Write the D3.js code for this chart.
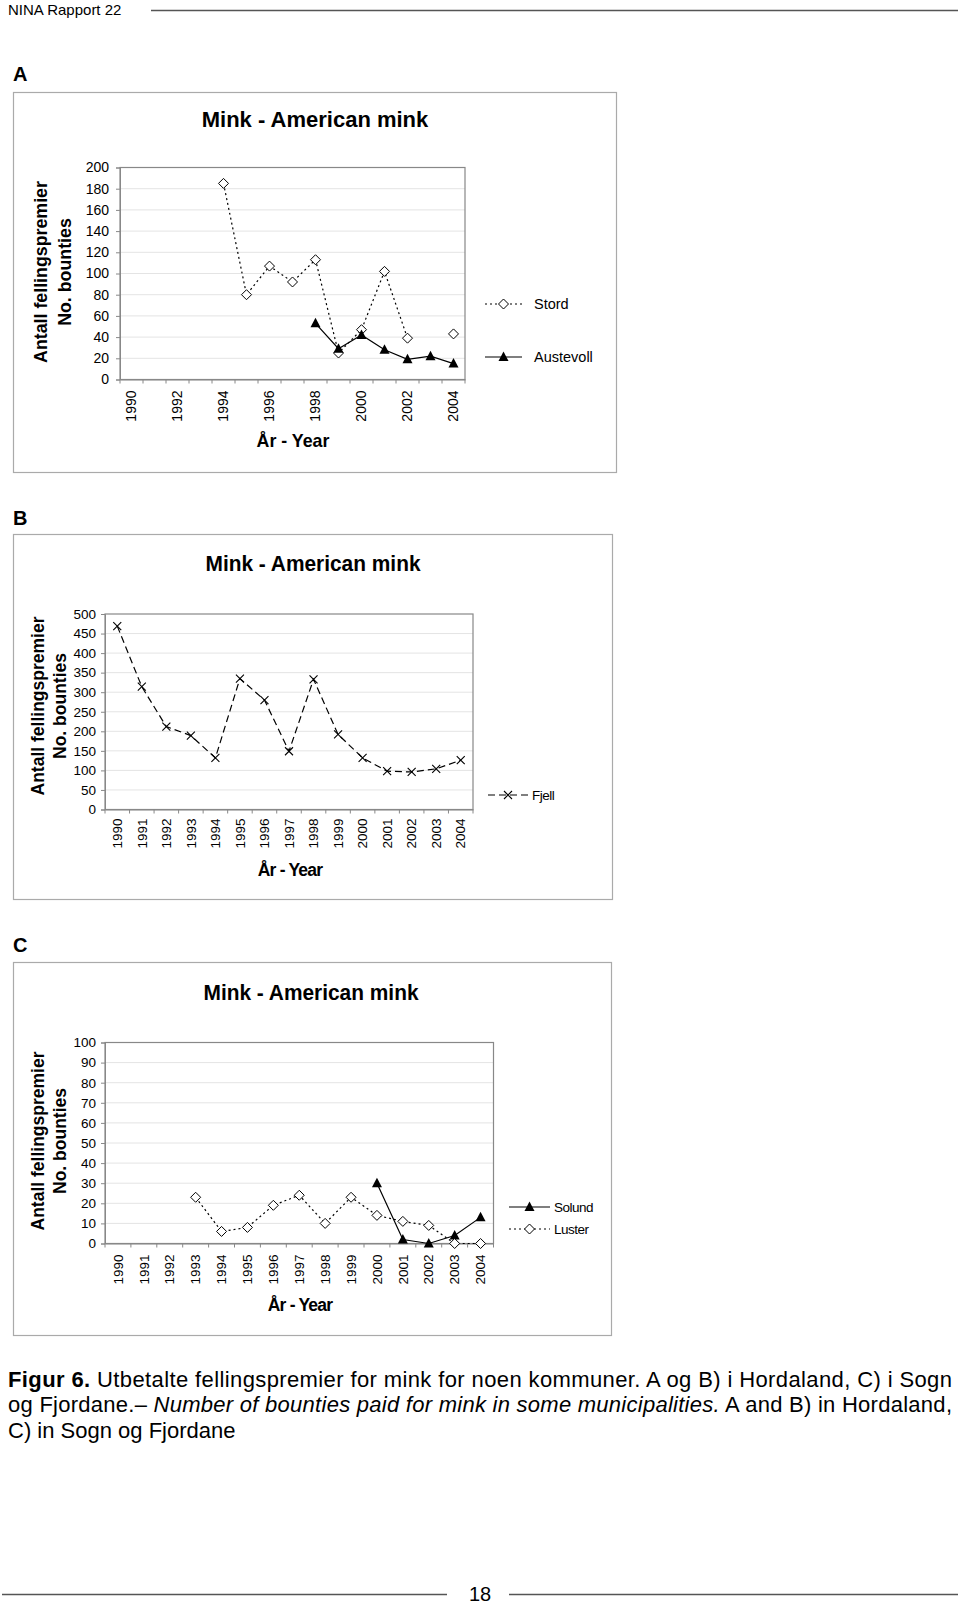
<!DOCTYPE html>
<html><head><meta charset="utf-8">
<script src="https://cdn.jsdelivr.net/npm/d3@7"></script>
<style>
body{margin:0;background:#fff;}
svg{display:block;font-family:"Liberation Sans",Arial,Helvetica,sans-serif;}
</style></head>
<body>
<svg id="page" width="960" height="1604"></svg>
<script>
// ---- data ----
const years = [1990,1991,1992,1993,1994,1995,1996,1997,1998,1999,2000,2001,2002,2003,2004];
const stord     = [null,null,null,null,185,80,107,92,113,25,47,102,39,null,43];
const austevoll = [null,null,null,null,null,null,null,null,53,29,42,28,19,22,15];
const fjell     = [469,314,212,189,132,335,280,149,333,192,132,98,96,104,126];
const luster    = [null,null,null,23,6,8,19,24,10,23,14,11,9,0,0];
const solund    = [null,null,null,null,null,null,null,null,null,null,30,2,0,4,13];
const ticksA = [0,20,40,60,80,100,120,140,160,180,200];
const ticksB = [0,50,100,150,200,250,300,350,400,450,500];
const ticksC = [0,10,20,30,40,50,60,70,80,90,100];
const xLabelsA = [1990,1992,1994,1996,1998,2000,2002,2004];
const titleText = "Mink - American mink";
const yLabel1 = "Antall fellingspremier";
const yLabel2 = "No. bounties";
const xLabel = "År - Year";

const svg = d3.select("#page");

// header
svg.append("text").attr("x",8).attr("y",14.5).attr("font-size",15).text("NINA Rapport 22");
svg.append("line").attr("x1",151).attr("x2",958).attr("y1",10.5).attr("y2",10.5).attr("stroke","#555").attr("stroke-width",1.5);

function marker(g, type, x, y){
  if(type==="diamond"){
    g.append("path").attr("d",`M${x},${y-5}L${x+5},${y}L${x},${y+5}L${x-5},${y}Z`)
      .attr("fill","#fff").attr("stroke","#000").attr("stroke-width",1);
  } else if(type==="triangle"){
    g.append("path").attr("d",`M${x},${y-5.5}L${x+5},${y+4}L${x-5},${y+4}Z`).attr("fill","#000");
  } else if(type==="x"){
    g.append("path").attr("d",`M${x-4},${y-4}L${x+4},${y+4}M${x-4},${y+4}L${x+4},${y-4}`)
      .attr("stroke","#000").attr("stroke-width",1.1);
  }
}

function panel(o){
  const g = svg.append("g");
  g.append("text").attr("x",o.letter[0]).attr("y",o.letter[1]).attr("font-size",20).attr("font-weight","bold").text(o.letterText);
  g.append("rect").attr("x",o.frame[0]+0.5).attr("y",o.frame[1]+0.5).attr("width",o.frame[2]-o.frame[0]).attr("height",o.frame[3]-o.frame[1])
    .attr("fill","none").attr("stroke","#aaa").attr("stroke-width",1.2);
  const t = g.append("text").attr("x",o.title[0]).attr("y",o.title[1]).attr("text-anchor","middle").attr("dominant-baseline","central")
    .attr("font-size",22).attr("font-weight","bold").text(titleText);
  if(o.condensed) t.attr("textLength",215).attr("lengthAdjust","spacingAndGlyphs");
  const x = d3.scaleBand().domain(years).range([o.plot[0],o.plot[1]]);
  const y = d3.scaleLinear().domain([0,o.max]).range([o.plot[3],o.plot[2]]);
  g.append("g").selectAll("line").data(o.ticks.filter(t=>t>0&&t<o.max)).join("line")
    .attr("x1",o.plot[0]).attr("x2",o.plot[1]).attr("y1",d=>y(d)).attr("y2",d=>y(d))
    .attr("stroke","#e4e4e4").attr("stroke-width",1);
  g.append("rect").attr("x",o.plot[0]).attr("y",o.plot[2]).attr("width",o.plot[1]-o.plot[0]).attr("height",o.plot[3]-o.plot[2])
    .attr("fill","none").attr("stroke","#888").attr("stroke-width",1.2);
  const ya = g.append("g").attr("transform",`translate(${o.plot[0]},0)`)
    .call(d3.axisLeft(y).tickValues(o.ticks).tickSize(4).tickPadding(o.yPad).tickFormat(d3.format("d")));
  ya.select(".domain").attr("stroke","#888");
  ya.selectAll(".tick line").attr("stroke","#888");
  ya.selectAll("text").attr("font-size",o.tickFont).attr("fill","#000").attr("font-family",null);
  const xa = g.append("g").attr("transform",`translate(0,${o.plot[3]})`)
    .call(d3.axisBottom(x).tickValues(o.xLabels).tickSize(0).tickFormat(d3.format("d")));
  xa.select(".domain").attr("stroke","#888");
  xa.selectAll("text").attr("font-size",o.tickFont).attr("fill","#000").attr("font-family",null)
    .attr("transform","rotate(-90)").attr("text-anchor","end").attr("dy","0.35em").attr("x",-o.xPad).attr("y",0);
  const bounds = years.map(d=>x(d)).concat([x(years[years.length-1])+x.bandwidth()]);
  g.append("g").selectAll("line").data(bounds).join("line")
    .attr("x1",d=>d).attr("x2",d=>d).attr("y1",o.plot[3]).attr("y2",o.plot[3]+4).attr("stroke","#888");
  g.append("text").attr("transform",`translate(${o.ylab[0]},${o.ylab[2]}) rotate(-90)`).attr("text-anchor","middle")
    .attr("dominant-baseline","central").attr("font-size",o.labFont).attr("font-weight","bold").text(yLabel1);
  g.append("text").attr("transform",`translate(${o.ylab[1]},${o.ylab[2]}) rotate(-90)`).attr("text-anchor","middle")
    .attr("dominant-baseline","central").attr("font-size",o.labFont).attr("font-weight","bold").text(yLabel2);
  g.append("text").attr("x",o.xlab[0]).attr("y",o.xlab[1]).attr("text-anchor","middle").attr("dominant-baseline","central")
    .attr("font-size",o.labFont).attr("font-weight","bold").attr("letter-spacing",o.condensed?-0.8:0).text(xLabel);
  const cx = d=>x(d)+x.bandwidth()/2;
  o.series.forEach((s,si)=>{
    const pts = years.map((yr,i)=>({yr,v:s.values[i]}));
    const line = d3.line().defined(d=>d.v!==null).x(d=>cx(d.yr)).y(d=>y(d.v));
    g.append("path").attr("d",line(pts)).attr("fill","none").attr("stroke","#000").attr("stroke-width",1.2)
      .attr("stroke-dasharray",s.dash);
    const mg = g.append("g");
    pts.filter(d=>d.v!==null).forEach(d=>marker(mg,s.marker,cx(d.yr),y(d.v)));
    const ly = o.legend[2][si];
    g.append("line").attr("x1",o.legend[0]).attr("x2",o.legend[1]).attr("y1",ly).attr("y2",ly)
      .attr("stroke","#000").attr("stroke-width",1.2).attr("stroke-dasharray",s.dash);
    marker(g,s.marker,(o.legend[0]+o.legend[1])/2,ly);
    g.append("text").attr("x",o.legend[1]+o.legGap).attr("y",ly).attr("dominant-baseline","central").attr("font-size",o.legFont)
      .attr("letter-spacing",o.condensed?-0.5:0).text(s.name);
  });
}

panel({letterText:"A",letter:[13,81],frame:[13,92,616,472],title:[315,119],
  plot:[120,465,167.5,379.5],max:200,ticks:ticksA,xLabels:xLabelsA,tickFont:14,yPad:7,xPad:11,
  ylab:[41,64.5,272],xlab:[293,441],labFont:17.8,legFont:14.5,legGap:12,condensed:false,
  legend:[485,522,[304,357]],
  series:[{name:"Stord",values:stord,dash:"2,3",marker:"diamond"},
          {name:"Austevoll",values:austevoll,dash:null,marker:"triangle"}]});

panel({letterText:"B",letter:[13,525],frame:[13,534,612,899],title:[313,563],
  plot:[105,473,614,809.5],max:500,ticks:ticksB,xLabels:years,tickFont:13.5,yPad:5,xPad:9,
  ylab:[38,59.5,706],xlab:[290,870],labFont:17.5,legFont:13.5,legGap:4,condensed:true,
  legend:[488,528,[795]],
  series:[{name:"Fjell",values:fjell,dash:"7,4",marker:"x"}]});

panel({letterText:"C",letter:[13,952],frame:[13,962,611,1335],title:[311,992],
  plot:[105,493.5,1042.5,1243.5],max:100,ticks:ticksC,xLabels:years,tickFont:13.5,yPad:5,xPad:11,
  ylab:[38,59.5,1141],xlab:[300,1305],labFont:17.5,legFont:13.5,legGap:4,condensed:true,
  legend:[509,550,[1207,1229]],
  series:[{name:"Solund",values:solund,dash:null,marker:"triangle"},
          {name:"Luster",values:luster,dash:"2,3",marker:"diamond"}]});

// caption
const cap = svg.append("g").attr("font-size",22);
const l1 = cap.append("text").attr("x",8).attr("y",1387).attr("textLength",944).attr("lengthAdjust","spacing");
l1.append("tspan").attr("font-weight","bold").text("Figur 6.");
l1.append("tspan").text(" Utbetalte fellingspremier for mink for noen kommuner. A og B) i Hordaland, C) i Sogn");
const l2 = cap.append("text").attr("x",8).attr("y",1412).attr("textLength",944).attr("lengthAdjust","spacing");
l2.append("tspan").text("og Fjordane.– ");
l2.append("tspan").attr("font-style","italic").text("Number of bounties paid for mink in some municipalities.");
l2.append("tspan").text(" A and B) in Hordaland,");
cap.append("text").attr("x",8).attr("y",1438).text("C) in Sogn og Fjordane");

// footer
svg.append("line").attr("x1",2).attr("x2",447).attr("y1",1594.5).attr("y2",1594.5).attr("stroke","#555").attr("stroke-width",1.5);
svg.append("line").attr("x1",509).attr("x2",958).attr("y1",1594.5).attr("y2",1594.5).attr("stroke","#555").attr("stroke-width",1.5);
svg.append("text").attr("x",480).attr("y",1601).attr("text-anchor","middle").attr("font-size",20).text("18");
</script>
</body></html>
